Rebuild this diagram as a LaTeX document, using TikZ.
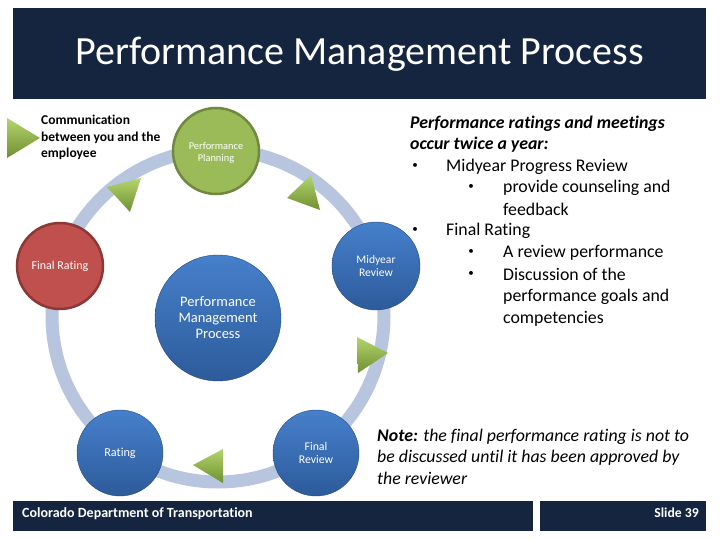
\documentclass[tikz,border=0pt]{standalone}
\usepackage{fontspec}
\setmainfont{Carlito}[Ligatures={NoCommon}]
\definecolor{navy}{HTML}{15253F}
\definecolor{ringc}{HTML}{B7C5DF}
\definecolor{bluetop}{HTML}{4680CB}
\definecolor{bluebot}{HTML}{2D5B9B}
\definecolor{greenfill}{HTML}{9BBB59}
\definecolor{greenline}{HTML}{71893F}
\definecolor{redfill}{HTML}{C0504D}
\definecolor{redline}{HTML}{8C3836}
\definecolor{trilight}{HTML}{B4D56C}
\definecolor{tridark}{HTML}{6F8F32}
\tikzset{
  stagenode/.style={circle, inner sep=0pt, text=white, align=center},
  bluenode/.style={stagenode, top color=bluetop, bottom color=bluebot, draw=bluebot!80!black, line width=0.4pt},
  greennode/.style={stagenode, fill=greenfill, draw=greenline, line width=2.5pt},
  rednode/.style={stagenode, fill=redfill, draw=redline, line width=2.5pt},
  tri/.style={top color=trilight, bottom color=tridark},
  bodytext/.style={anchor=base west, inner sep=0pt, font=\fontsize{17.8}{21}\selectfont},
  bulletmark/.style={anchor=center, inner sep=0pt, font=\fontsize{11}{13}\selectfont},
}
\begin{document}
\begin{tikzpicture}[x=1pt,y=-1pt]
\useasboundingbox (0,0) rectangle (720,540);
% title bar
\fill[navy] (13,8) rectangle (706,99);
\node[text=white, font=\fontsize{40}{48}\selectfont, inner sep=0pt] (title) at (359.5,54) {Performance Management Process};
% ring
\draw[ringc, line width=13pt] (218,316) circle[radius=166pt];
% stage nodes
\node[greennode, minimum size=86pt] (plan) at (216,151) {};
\node[text=white, align=center, inner sep=0pt, font=\fontsize{10.4}{12}\selectfont] (plantext) at (216,153) {Performance\\Planning};
\node[rednode, minimum size=86pt, font=\fontsize{12}{13}\selectfont] (final) at (60,266) {Final Rating};
\node[bluenode, minimum size=88pt, font=\fontsize{11.6}{12.5}\selectfont] (mid) at (376,266) {Midyear\\Review};
\node[bluenode, minimum size=126pt, font=\fontsize{14.5}{16}\selectfont] (pmp) at (218,318) {Performance\\Management\\Process};
\node[bluenode, minimum size=86pt, font=\fontsize{12.2}{13}\selectfont] (rating) at (120,453) {Rating};
\node[bluenode, minimum size=86pt, font=\fontsize{11.8}{13}\selectfont] (frev) at (316,453) {Final\\Review};
% arrows on ring
\shade[tri] (107,187) -- (141,178) -- (130,212) -- cycle;
\shade[tri] (287,198) -- (311,175) -- (320,210) -- cycle;
\shade[tri] (357,337) -- (388,353) -- (358,373) -- cycle;
\shade[tri] (193,465) -- (223,449) -- (223,483) -- cycle;
% legend
\shade[tri] (7,118) -- (40,138) -- (7,158) -- cycle;
\node[anchor=north west, inner sep=0pt, align=left, font=\bfseries\fontsize{13.5}{16.5}\selectfont] (legend) at (41,115) {Communication\\between you and the\\employee};
% right text block
\node[bodytext, font=\bfseries\itshape\fontsize{17.8}{21}\selectfont] (r1) at (410,129) {Performance ratings and meetings};
\node[bodytext, font=\bfseries\itshape\fontsize{17.8}{21}\selectfont] (r2) at (410,150) {occur twice a year:};
\node[bulletmark] (b1) at (415,166) {•};
\node[bodytext] (r3) at (446,172) {Midyear Progress Review};
\node[bulletmark] (b2) at (471,187) {•};
\node[bodytext] (r4) at (503,193) {provide counseling and};
\node[bodytext] (r5) at (503,215) {feedback};
\node[bulletmark] (b3) at (415,230) {•};
\node[bodytext] (r6) at (446,236) {Final Rating};
\node[bulletmark] (b4) at (471,252) {•};
\node[bodytext] (r7) at (503,258) {A review performance};
\node[bulletmark] (b5) at (471,274) {•};
\node[bodytext] (r8) at (503,280) {Discussion of the};
\node[bodytext] (r9) at (503,301) {performance goals and};
\node[bodytext] (r10) at (503,323) {competencies};
% note
\node[bodytext, font=\itshape\fontsize{17.8}{21}\selectfont] (n1) at (377,441) {\textbf{Note:} the final performance rating is not to};
\node[bodytext, font=\itshape\fontsize{17.8}{21}\selectfont] (n2) at (377,462) {be discussed until it has been approved by};
\node[bodytext, font=\itshape\fontsize{17.8}{21}\selectfont] (n3) at (377,484) {the reviewer};
% footer
\fill[navy] (13,501) rectangle (533,531);
\fill[navy] (540,501) rectangle (706,531);
\node[anchor=west, inner sep=0pt, text=white, font=\bfseries\fontsize{14}{16}\selectfont] (cdot) at (22,514) {Colorado Department of Transportation};
\node[anchor=east, inner sep=0pt, text=white, font=\bfseries\fontsize{13.7}{16}\selectfont] (slide) at (699,513) {Slide 39};
\end{tikzpicture}
\end{document}
